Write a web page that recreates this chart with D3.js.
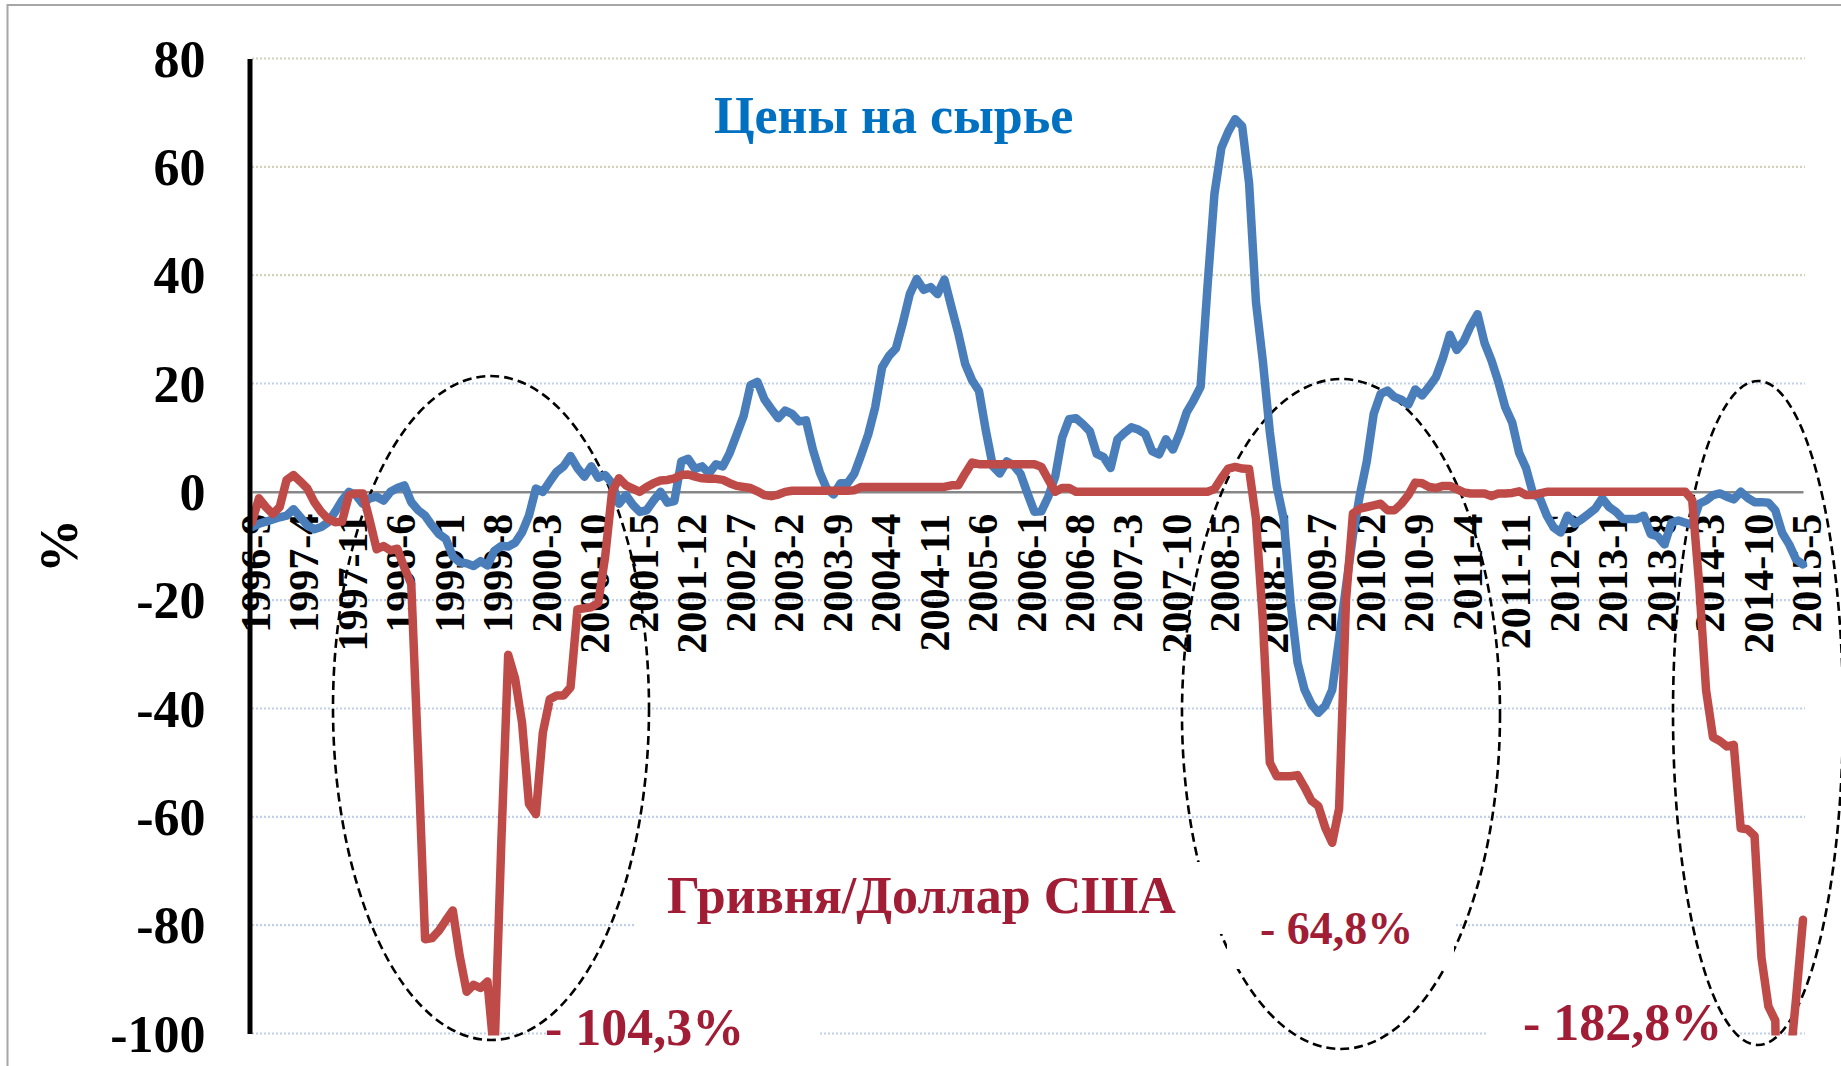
<!DOCTYPE html>
<html>
<head>
<meta charset="utf-8">
<script src="https://cdn.jsdelivr.net/npm/d3@7/dist/d3.min.js"></script>
<style>
  body { margin: 0; background: #fff; }
  svg { display: block; }
</style>
</head>
<body>
<svg class="chart"></svg>
<script>
// Цены на сырье, % (blue)
var commodity = [
  -6.5, -5.9, -5.5, -5.1, -4.7, -4.4, -3.2, -4.7, -6.2, -6.9,
  -6.5, -5.6, -3.7, -1.6, 0, -0.6, -2.2, -1.2, -0.9, -1.6,
  0, 0.7, 1.2, -1.9, -3.4, -4.4, -6.2, -7.8, -8.7, -11.9,
  -13, -13.2, -13.7, -12.8, -13.6, -10.9, -10, -10.1, -9.4, -7.5,
  -4.4, 0.6, 0, 1.9, 3.7, 4.7, 6.6, 4.4, 2.8, 4.7,
  2.6, 3.1, 1.6, -2.2, -0.6, -2.4, -3.7, -3.4, -1.6, 0,
  -2, -1.7, 5.6, 6.1, 4.2, 4.7, 3.4, 5.1, 4.7, 7.2,
  10.6, 14, 19.7, 20.3, 17.1, 15.3, 13.6, 15, 14.4, 13,
  13.2, 7.8, 3.6, 0.6, -0.5, 1.6, 1.6, 3.4, 6.9, 10.6,
  15.6, 23, 25.1, 26.5, 31.2, 36.5, 39.3, 37.3, 37.8, 36.5,
  39.2, 34.2, 29.3, 23.6, 20.6, 18.6, 11.2, 4.7, 3.4, 5.6,
  4.9, 3.3, -0.3, -3.7, -3.6, -0.9, 2.8, 10, 13.4, 13.6,
  12.5, 11.2, 7, 6.4, 4.4, 9.7, 10.9, 11.9, 11.5, 10.7,
  7.5, 6.9, 9.7, 7.8, 10.9, 14.7, 16.9, 19.4, 38, 55,
  63.5, 66.5, 68.8, 67.5, 57, 35, 24, 11, 1, -5,
  -20.5, -31.5, -36.5, -39.2, -40.8, -39.5, -36.6, -27.2, -17.5, -8,
  -0.6, 5.6, 14.4, 18.1, 18.7, 17.5, 17, 16.1, 18.9, 17.8,
  19.4, 21.2, 24.7, 29, 26.2, 27.8, 30.6, 32.8, 27.5, 24.3,
  20.3, 15.6, 12.8, 7.2, 4.4, -0.3, -1.2, -4.4, -6.6, -7.5,
  -4.4, -5.9, -5.1, -4.1, -3.1, -1.2, -2.8, -3.7, -5, -5,
  -5, -4.4, -7.8, -8.2, -9.7, -5.7, -5.3, -5.7, -6.1, -2.2,
  -1.6, -0.6, -0.3, -0.9, -1.4, 0, -1.1, -1.9, -1.9, -2,
  -3.4, -7.6, -9.7, -12.5, -13.4
]

// Гривня/Доллар США, % (red)
var hryvnia = [
  -5.6, -1.2, -2.8, -4.1, -2.8, 2.2, 3.1, 1.9, 0.6, -1.9,
  -3.7, -5, -5.6, -5.5, -0.6, -0.3, -0.3, -5.3, -10.6, -10,
  -10.8, -10.5, -14, -17, -49, -82.6, -82.4, -81, -79.1, -77.3,
  -85.7, -92.3, -91, -91.6, -90.4, -104.3, -65, -30.1, -34.5, -42.6,
  -57.6, -59.5, -44.5, -38.3, -37.6, -37.6, -36.1, -21.7, -21.5, -21.3,
  -20.5, -12, 0, 2.5, 1.2, 0.6, 0, 0.9, 1.6, 2.1,
  2.2, 2.5, 3.1, 3.2, 2.8, 2.5, 2.4, 2.4, 2.2, 1.6,
  1.1, 0.9, 0.7, 0.1, -0.6, -0.8, -0.5, 0, 0.2, 0.2,
  0.2, 0.2, 0.2, 0.2, 0.2, 0.2, 0.2, 0.3, 0.9, 0.9,
  0.9, 0.9, 0.9, 0.9, 0.9, 0.9, 0.9, 0.9, 0.9, 0.9,
  0.9, 1.2, 1.2, 3.4, 5.4, 5.1, 5.1, 5.1, 5.1, 5.1,
  5.1, 5.1, 5.1, 5.1, 4.6, 2.3, 0, 0.7, 0.7, 0,
  0, 0, 0, 0, 0, 0, 0, 0, 0, 0,
  0, 0, 0, 0, 0, 0, 0, 0, 0, 0.5,
  2.5, 4.3, 4.6, 4.3, 4.2, -5, -24, -50, -52.5, -52.5,
  -52.5, -52.3, -54.5, -57, -58, -62, -64.8, -58.5, -20, -4,
  -3.1, -2.8, -2.5, -2.2, -3.4, -3.4, -2.2, -0.6, 1.7, 1.6,
  0.9, 0.7, 1.1, 1.1, 0.5, -0.1, -0.3, -0.3, -0.3, -0.8,
  -0.3, -0.3, -0.2, 0.1, -0.6, -0.6, -0.3, 0, 0, 0,
  0, 0, 0, 0, 0, 0, 0, 0, 0, 0,
  0, 0, 0, 0, 0, 0, 0, 0, -1.5, -17,
  -36.6, -45.3, -46, -47, -46.7, -62.1, -62.3, -63.5, -86, -95,
  -97.6, -182.8, -107, -93.5, -79
]

// monthly categories 1996-9 ... 2015-5
var months = []
for (var yy = 1996, mm = 9; months.length < commodity.length; mm++) {
  if (mm > 12) { mm = 1; yy++ }
  months.push(yy + "-" + mm)
}

var tickLabels = ["1996-9", "1997-4", "1997-11", "1998-6", "1999-1", "1999-8", "2000-3", "2000-10",
  "2001-5", "2001-12", "2002-7", "2003-2", "2003-9", "2004-4", "2004-11", "2005-6", "2006-1",
  "2006-8", "2007-3", "2007-10", "2008-5", "2008-12", "2009-7", "2010-2", "2010-9", "2011-4",
  "2011-11", "2012-6", "2013-1", "2013-8", "2014-3", "2014-10", "2015-5"]

var yTicks = [80, 60, 40, 20, 0, -20, -40, -60, -80, -100]

var serif = "'Liberation Serif', 'Times New Roman', serif"

var svg = d3.select(".chart")
  .attr("width", 1841)
  .attr("height", 1066)

var x = d3.scalePoint().domain(months).range([252, 1803])
var y = d3.scaleLinear().domain([-100, 80]).range([1033.5, 58.5])

//外框
svg.append("rect")
  .attr("x", 7.5).attr("y", 5)
  .attr("width", 1900).attr("height", 1200)
  .attr("fill", "#fff")
  .attr("stroke", "#a6a6a6")
  .attr("stroke-width", 2)

//格線
svg.append("g")
  .selectAll("line")
  .data(yTicks.filter(d => d != 0))
  .enter().append("line")
  .attr("x1", 252).attr("x2", 1805)
  .attr("y1", d => y(d)).attr("y2", d => y(d))
  .attr("stroke", d => d >= 40 ? "#d3d0bb" : "#bfcfec")
  .attr("stroke-width", 2.2)
  .attr("stroke-dasharray", "2 2")

//白底 (蓋住部分格線)
function whiteBox(x0, y0, w, h) {
  svg.append("rect")
    .attr("x", x0).attr("y", y0)
    .attr("width", w).attr("height", h)
    .attr("fill", "#fff")
}
whiteBox(548, 1028, 272, 12)
whiteBox(1486, 1029, 254, 9)

//x軸 (0 線)
var xAxis = svg.append("g")
  .attr("transform", `translate(0,${y(0)})`)
  .call(d3.axisBottom(x).tickValues(tickLabels).tickSize(0).tickSizeOuter(0))
xAxis.select(".domain")
  .attr("stroke", "#878787")
  .attr("stroke-width", 2.5)
xAxis.selectAll("text")
  .attr("y", 0)
  .attr("dy", null)
  .attr("transform", "translate(17.5,22) rotate(-90)")
  .style("text-anchor", "end")
  .style("font-family", serif)
  .style("font-weight", "bold")
  .style("font-size", "42px")
  .attr("fill", "#000")

//虛線橢圓
var ellipses = [[491, 708, 158, 332], [1341, 714, 159, 335], [1758, 713, 85, 332]]
svg.append("g")
  .selectAll("ellipse")
  .data(ellipses)
  .enter().append("ellipse")
  .attr("cx", d => d[0]).attr("cy", d => d[1])
  .attr("rx", d => d[2]).attr("ry", d => d[3])
  .attr("fill", "none")
  .attr("stroke", "#000")
  .attr("stroke-width", 2.6)
  .attr("stroke-dasharray", "9 5")

whiteBox(634, 862, 594, 72)
whiteBox(1227, 898, 227, 71)

//文字
function label(txt, x0, y0, size, color) {
  svg.append("text")
    .text(txt)
    .attr("x", x0).attr("y", y0)
    .attr("fill", color)
    .style("font-family", serif)
    .style("font-weight", "bold")
    .style("font-size", size + "px")
}
label("Цены на сырье", 714, 133, 52, "#0070c0")
label("Гривня/Доллар США", 667, 913, 52, "#a01d35")
label("- 104,3%", 545, 1045, 52, "#a01d35")
label("- 64,8%", 1260, 944, 46, "#a01d35")
label("- 182,8%", 1523, 1040, 52, "#a01d35")

//折線
svg.append("clipPath").attr("id", "plot")
  .append("rect")
  .attr("x", 240).attr("y", 0)
  .attr("width", 1600).attr("height", y(-100) + 2)

var line = d3.line()
  .x((d, i) => x(months[i]))
  .y(d => y(d))

svg.append("path")
  .datum(commodity)
  .attr("d", line)
  .attr("clip-path", "url(#plot)")
  .attr("fill", "none")
  .attr("stroke", "#4a7ebb")
  .attr("stroke-width", 8.5)
  .attr("stroke-linejoin", "round")
  .attr("stroke-linecap", "round")

svg.append("path")
  .datum(hryvnia)
  .attr("d", line)
  .attr("clip-path", "url(#plot)")
  .attr("fill", "none")
  .attr("stroke", "#be4b48")
  .attr("stroke-width", 8.5)
  .attr("stroke-linejoin", "round")
  .attr("stroke-linecap", "round")

//y軸
var yAxis = svg.append("g")
  .attr("transform", "translate(249.5,0)")
  .call(d3.axisLeft(y).tickValues(yTicks).tickSize(0).tickSizeOuter(0).tickPadding(44)
    .tickFormat(d => String(d)))
yAxis.select(".domain")
  .attr("stroke", "#000")
  .attr("stroke-width", 5)
yAxis.selectAll("text")
  .attr("dy", "0.34em")
  .style("font-family", serif)
  .style("font-weight", "bold")
  .style("font-size", "52px")
  .attr("fill", "#000")

svg.append("text")
  .text("%")
  .attr("transform", "translate(77,546) rotate(-90)")
  .style("text-anchor", "middle")
  .style("font-family", serif)
  .style("font-weight", "bold")
  .style("font-size", "54px")
</script>
</body>
</html>
